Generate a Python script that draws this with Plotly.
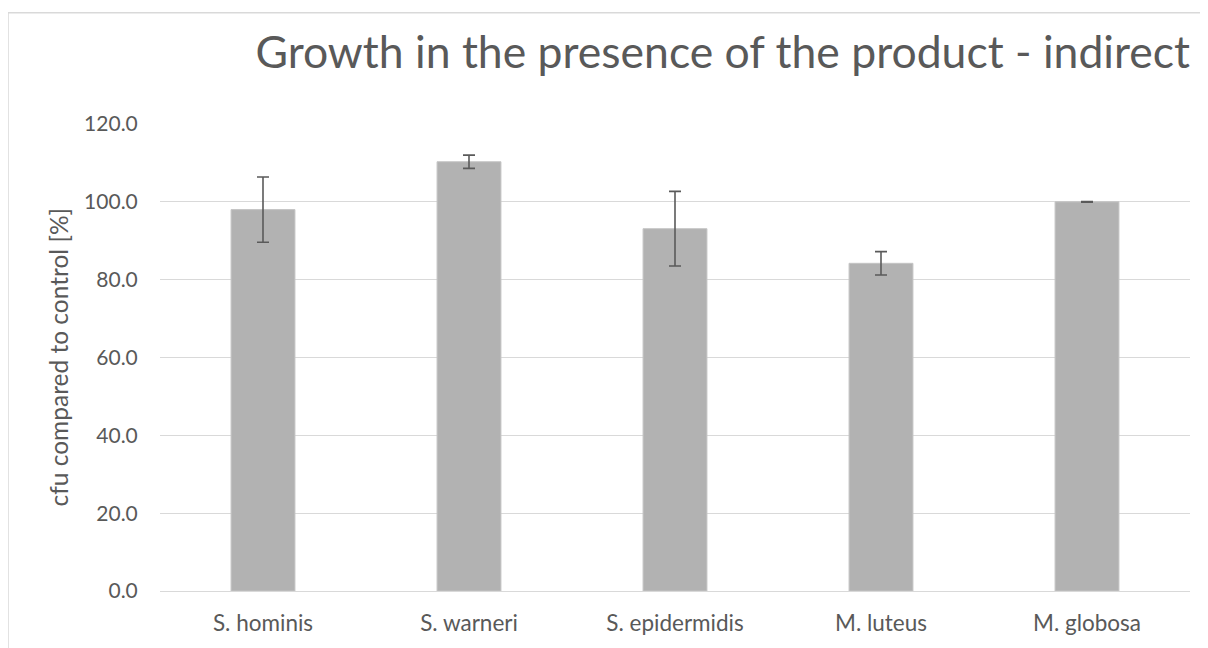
import plotly.graph_objects as go

categories = ["S. hominis", "S. warneri", "S. epidermidis", "M. luteus", "M. globosa"]
values = [98.0, 110.3, 93.1, 84.2, 100.0]
errors = [8.4, 1.7, 9.6, 3.0, 0.1]
y_ticks = [0, 20, 40, 60, 80, 100, 120]

TXT = "#595959"
FONT = "Lato"

W, H = 1200, 640
L, R, T, B = 152, 18, 116, 54
PW, PH = W - L - R, H - T - B

fig = go.Figure()
fig.add_trace(go.Bar(
    x=categories, y=values,
    width=0.31,
    marker=dict(color="#b2b2b2", line=dict(color="#c4c4c4", width=1)),
    error_y=dict(type="data", array=errors, visible=True, color="#5a5a5a", thickness=1.6, width=6),
))

fig.update_layout(
    width=W, height=H,
    margin=dict(l=L, r=R, t=T, b=B),
    paper_bgcolor="white", plot_bgcolor="white",
    showlegend=False,
    font=dict(family=FONT, color=TXT, size=21),
    title=dict(
        text="Growth in the presence of the product - indirect",
        x=(W - R) / W, xanchor="right", y=1 - 44 / H, yanchor="middle",
        font=dict(family=FONT, size=44.5, color=TXT),
    ),
    xaxis=dict(
        showgrid=False, showline=False, zeroline=False,
        ticks="outside", ticklen=12, tickcolor="rgba(0,0,0,0)",
        tickfont=dict(size=22.5, color=TXT),
    ),
    yaxis=dict(
        range=[0, 120], tickvals=y_ticks, tickformat=".1f",
        showgrid=True, gridcolor="#d9d9d9", gridwidth=1.3,
        zeroline=True, zerolinecolor="#d9d9d9", zerolinewidth=1.3,
        showline=False,
        ticks="outside", ticklen=17, tickcolor="rgba(0,0,0,0)",
        tickfont=dict(size=21, color=TXT),
    ),
    annotations=[dict(
        text="cfu compared to control [%]", textangle=-90,
        xref="paper", yref="paper", x=(50 - L) / PW, y=0.5,
        xanchor="center", yanchor="middle", showarrow=False,
        font=dict(family=FONT, size=24.5, color=TXT),
    )],
    shapes=[dict(
        type="rect", xref="paper", yref="paper",
        x0=(0 - L) / PW, x1=1.2, y0=-0.3, y1=(H - B - 4) / PH,
        line=dict(color="#d9d9d9", width=1.5), fillcolor="rgba(0,0,0,0)",
    )],
)

fig.write_html("out.html")
